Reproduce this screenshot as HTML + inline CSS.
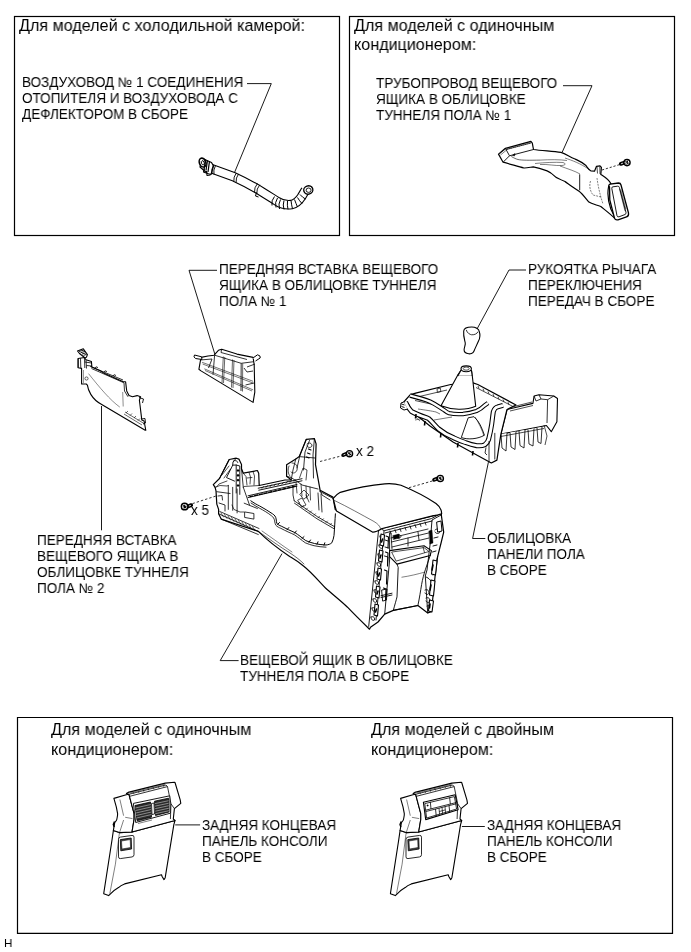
<!DOCTYPE html>
<html><head><meta charset="utf-8">
<style>
html,body{margin:0;padding:0;background:#fff;}
body{width:691px;height:952px;position:relative;overflow:hidden;font-family:"Liberation Sans",sans-serif;color:#000;}
.t{position:absolute;white-space:pre;font-size:13.87px;line-height:16.1px;transform:scaleX(0.975);transform-origin:0 0;will-change:transform;}
.h{position:absolute;white-space:pre;font-size:16.35px;line-height:19px;transform:scaleX(0.988);transform-origin:0 0;will-change:transform;}
svg{position:absolute;left:0;top:0;}
</style></head><body>
<svg width="691" height="952" viewBox="0 0 691 952" fill="none" stroke="#000" stroke-width="1">
<!-- boxes -->
<rect x="14.5" y="16.5" width="325" height="219" stroke-width="1.2"/>
<rect x="349.5" y="16.5" width="325" height="219" stroke-width="1.2"/>
<path d="M17.5,933.3 L17.5,717.5 L672.5,717.5 L672.5,933.3 Z" stroke-width="1.2"/>
<!-- PARTS -->
<!-- hose box1 -->
<g id="hose" stroke-linecap="butt" stroke-linejoin="round">
<path id="hc" d="M211,168.6 L234.5,177.1 C242,180.5 250,184.5 262,191.8 C268,195.5 273,198.8 277,201.3 C282,204.6 287,205.2 291.5,204.6 C296,203.6 299,200.8 301.5,196.8 L305.5,190" stroke-width="9.6"/>
<path d="M211,168.6 L234.5,177.1 C242,180.5 250,184.5 262,191.8 C268,195.5 273,198.8 277,201.3 C282,204.6 287,205.2 291.5,204.6 C296,203.6 299,200.8 301.5,196.8 L305.5,190" stroke="#fff" stroke-width="7.4"/>
<!-- connector -->
<path d="M202.5,158.5 L211.5,162.5 L213.5,166 L211,174.5 L207.5,173.5 L200,167 Z" fill="#fff" stroke-width="1.2"/>
<ellipse cx="202.6" cy="162.6" rx="3.2" ry="4.6" transform="rotate(-20 202.6 162.6)" fill="#fff" stroke-width="1.6"/>
<ellipse cx="202.8" cy="162.8" rx="1.4" ry="2.2" transform="rotate(-20 202.8 162.8)" stroke-width="0.9"/>
<path d="M205.5,159.5 L204,169.5 M207.5,160.3 L206,170.5 M209.5,161.2 L208,172" stroke-width="1.2"/>
<path d="M206.5,171 L207,175.5 L210.5,175 M204.5,168.5 L203.5,172 L206,173" stroke-width="1.1"/>
<path d="M213.5,165 Q211,169.5 212,174 M215.5,165.6 Q213,170 214,174.5" stroke-width="0.9"/>
<!-- bands -->
<path d="M236.3,173 q-3,4 -2.5,8.6 M238.6,173.9 q-3,4 -2.5,8.6" stroke-width="0.9"/>
<path d="M257.5,183.5 q-3.5,4 -3,9 M259.8,184.8 q-3.5,4 -3,9" stroke-width="0.9"/>
<path d="M256.5,192.5 l-1,3.5 l3,1" stroke-width="1"/>
<!-- bellows -->
<path d="M274.5,196.5 q-3.5,4 -2.5,9 M277.5,198 q-3,4.5 -1.5,9.5 M280.5,199.5 q-2.5,4.5 -1,9.5 M284,200.5 q-1.5,4.5 0,9 M287.5,200.8 q-0.5,4.5 0.5,8.6 M291,200.5 q0.5,4.5 1.5,8.3 M294.5,199.5 q1.5,4 3,7.5 M297.5,197.5 q2,3.5 4.5,6 M300,194.5 q2.5,3 5.5,4.5" stroke-width="1"/>
<ellipse cx="308.3" cy="190" rx="4.6" ry="4.1" transform="rotate(-20 308.3 190)" fill="#fff" stroke-width="1.4"/>
<ellipse cx="308.6" cy="190.2" rx="2.5" ry="2.2" stroke-width="0.9"/>
</g>
<!-- duct box2 -->
<g id="duct" stroke-linejoin="round">
<path d="M498.5,154.1 L505.4,148.3 L530.9,141.4 L532.3,143.2 L533.5,149.5 C541,150.6 552,151.2 561,152.4 C566,154 569,156.5 575,159 C578,160.5 582,162 585.6,165.2 C587.5,167.5 589,170.2 591,171 L594.5,171.2 L596.5,166.3 L600,165.8 L601.4,167.4 L600.8,174.4 C604,176.5 608,178.5 611,183.7 L608.6,186.5 C607.5,192 608,201 610.8,209 L616,219.5 C611,214.5 607,211.5 600.8,206.5 C595,204.5 591,203.5 588.9,202.1 C585,197.5 582,193.5 579.1,191.3 C573,187 568,184 565,181.5 C558,178.7 556,177.5 555.2,176.7 C552,173.5 550,172 547.1,170.9 C542,169 537,167.5 533.2,166.8 C529,167.5 526,168.2 523.9,168 C518,166.5 510,164 503.1,162.2 Z" fill="#fff" stroke-width="1.2"/>
<path d="M505.4,148.3 L509.5,155.8 L533.5,149.5 M509.5,155.8 L503.1,162.2" stroke-width="0.9"/>
<path d="M506,149.6 L531,143" stroke-width="0.7"/>
<path d="M507.5,149.6 L508.3,147.6 M509.5,149 L510.3,147 M511.5,148.5 L512.3,146.5 M513.5,148 L514.3,146 M515.5,147.4 L516.3,145.4 M517.5,146.9 L518.3,144.9 M519.5,146.4 L520.3,144.4 M521.5,145.8 L522.3,143.8 M523.5,145.3 L524.3,143.3 M525.5,144.8 L526.3,142.8 M527.5,144.2 L528.3,142.2 M529.5,143.7 L530.3,141.7" stroke-width="0.6"/>
<path d="M500,153.5 L505.5,149 M500.5,155 L506,150.5" stroke-width="0.5"/>
<path d="M511.3,156.5 C514,158 516,159 518,159.5 C522,160.4 530,160.3 540,160.1" stroke-width="0.6"/>
<path d="M512.5,155.3 L515,153.5 L514.5,156 Z" fill="#000" stroke-width="0.5"/>
<path d="M540,160.1 C550,159.5 560,159.5 567,160.5" stroke-width="0.5"/>
<path d="M535,163.5 C545,162.5 555,162 563,162.5 C566,163.5 566,165 562,165.5 C555,166 548,164 540,164.5" stroke-width="0.5"/>
<path d="M560,166 C568,169 575,171 580,174 M565,158 C572,160.5 580,163 590,170" stroke-width="0.5"/>
<path d="M579.7,174.4 L579.7,190.2" stroke-width="0.9"/>
<path d="M590.5,181 C589,186 590,191 593,195 L601,197 M597,178 C598,186 600,195 603,204" stroke-width="0.5" stroke-dasharray="2,1"/>
<path d="M609.5,187 Q608,185 610,184.2 L618.5,183 Q620.5,183 621,185 L628.5,213 Q629,216 626.5,216.8 L618,219.8 Q615.5,220.5 614.5,218.2 L609.8,200 Z" fill="#fff" stroke-width="1.3"/>
<path d="M611.8,188.5 Q611.5,187 613,186.8 L617.5,186.2 Q619,186 619.4,187.5 L626,212.5 Q626.3,214 625,214.5 L619,216.8 Q617.5,217.3 617,215.8 Z" stroke-width="0.9"/>
<path d="M619.5,189 L625,211 M620.8,189.5 L625.8,209" stroke-width="0.5"/>
<path d="M597,167 L597.5,173.5 M599.8,167 L600,174" stroke-width="0.7"/>
<path d="M602,170 L620.5,164.3" stroke-width="0.8" stroke-dasharray="2.2,1.8"/>
<g transform="translate(627,162.6)">
<path d="M-6.2,1.3 L-3,0.1" stroke-width="3.8" stroke-linecap="round"/>
<path d="M-6,1.2 L-4,0.5" stroke="#fff" stroke-width="0.8"/>
<circle cx="0" cy="0" r="3.1" fill="#fff" stroke-width="1.4"/>
<path d="M-1.6,-1.2 L0.4,-0.2 M0.6,-2 L0.2,0.6 M1.8,0.4 L-0.6,1.6 M-1.8,0.8 L-0.4,-0.6" stroke-width="1"/>
</g>
</g>
<!-- insert 2 (left) -->
<g id="ins2" stroke-linejoin="round">
<path d="M78.1,358.5 L84.5,357.5 L86,359.7 L91.4,361.4 L91.8,366 L90.8,366.6 L100.1,370.7 L104.7,373.6 L123.2,381.7 L125.6,381.7 L126.7,390.9 L129,395.6 L132.5,396.7 L137.1,395.6 L140.6,396.7 L139.4,400.2 L141.8,419.9 L144.1,421 L145.8,430.3 L145.2,430.3 L101.3,404.2 C98,402.5 93,398 90.8,394.4 C88.8,391 87.7,387.5 87.4,385.1 L86.2,384 L81.6,384 L81.6,368.4 L78.1,367.8 Z" fill="#fff" stroke-width="1.1"/>
<!-- clip -->
<path d="M77.5,351 L83.3,348.7 L87.4,354.5 L86.5,357.2 L84.5,357.5 L79.5,353.5 Z" fill="#fff" stroke-width="1.1"/>
<path d="M79,351.5 L84,350 M80.5,352.8 L85,351.4 M82,354 L86,352.8 M83.5,355.3 L86.6,354.4" stroke-width="0.9"/>
<path d="M78.1,358.5 L78.1,367.8 M84.5,357.5 L84.8,368 M80.5,358.2 L80.8,367.9 M86,359.7 L86.5,368.5 M84.8,362 L91.5,363 M86.5,365.5 L91.8,366" stroke-width="0.8"/>
<path d="M90.8,366.6 L123,380 M91.5,368.5 L124,382.8 L124.5,391 L128,396.8" stroke-width="0.8"/>
<path d="M95,368.3 L96,366.8 L98,367.6 M104,372.3 L105,370.8 L107,371.6 M113,376.2 L114,374.7 L116,375.5" stroke-width="0.8"/>
<path d="M88.5,373.6 C100,388 110,400 119.8,407.1 M122.7,392 L123.2,406.5" stroke-width="0.45"/>
<path d="M125,412 L144,423.5 M124,414 L142,425 M126,413 L128,411 M130,415.5 L132,413.5 M134,418 L136,416 M138,420.5 L140,418.5" stroke-width="0.6"/>
<path d="M139,397.5 L143.5,399 L142.5,403 M141.5,419 L145,418.5 L145.5,423 L143,424" stroke-width="0.9"/>
<circle cx="86.5" cy="378.5" r="1.6" stroke-width="0.6"/>
<path d="M83.5,370 L83.5,383" stroke-width="0.4"/>
</g>
<!-- insert 1 (upper middle) -->
<g id="ins1" stroke-linejoin="round">
<path d="M201,357.4 L198.9,369.3 L201,370.9 L253.1,402.4 L254.8,392.1 L254.2,365 L253.7,361.7 L253.1,357.4 L236.9,354.1 L221.7,349.2 L218.4,350.3 L214.1,355.2 L208,356 Z" fill="#fff" stroke-width="1.1"/>
<path d="M194.5,355 L201.5,356.8 L202,359.5 L195.5,358.5 Q193,357 194.5,355 Z" fill="#fff" stroke-width="1"/>
<path d="M253.1,357.9 L257.5,354.8 Q261,355.5 260.2,358 L255.5,361" fill="#fff" stroke-width="1"/>
<path d="M214.6,355.2 L241.2,363.3 L253.7,361.7 M214.6,355.2 L213,374.7 M241.2,363.3 L241,391 M221.7,349.2 L221,352.5 L247,359.5" stroke-width="0.8"/>
<path d="M223.3,356.5 L222,383 M232.5,359.5 L231.5,387.5 M224.8,357 L223.5,383 M234,360 L233,388 M242.7,363.5 L242.5,391.5" stroke-width="0.6"/>
<path d="M202.1,362.3 L253.1,381.3 M202.6,364 L253,383 M204.3,368.8 L253.1,389.9 M205,370.5 L252,391" stroke-width="0.55"/>
<path d="M200,360 L212,359 L208.5,368 M247,367 L255,364 M245.5,385 L254,383 M244,368 L247,372 L253,371" stroke-width="0.8"/>
</g>
<!-- knob -->
<path d="M463.7,331 C464,328 468,327 471.7,327 C475.5,327 479,329 479.3,331.7 C480.5,335 479.5,339 478.5,341 C477,344.5 475,348.5 473.9,351.2 C473,353.5 470,354 468.8,353.8 C466,353.5 464,352 464.1,349.8 C464.3,347 465.8,344.5 465.2,342.6 C464.5,339.5 463.2,336 463.7,331 Z" fill="#fff" stroke-width="1.1"/>
<path d="M466.3,329.9 C467,333 470,334.6 471.7,334.8 C474.5,335 477.5,333.5 477.9,331.7" stroke-width="0.8"/>
<!-- console -->
<g id="console" stroke-linejoin="round" stroke-linecap="round">
<!-- main body silhouette -->
<path d="M229.2,459.5 L236.2,458.2 L238.9,459.1 L241.5,464.4 L241.5,468.8 L243.3,473.2 L257.4,470.5 L258.7,473.2 L259.2,485.5 L285,480 L291.2,479.8 L286.6,476.3 L286.6,464.7 L295.8,458.9 L299.3,456.6 L306.3,439.3 L314.4,438.7 L316.1,443.9 L315.5,464.7 L320.1,490.2 L332.9,497.1 L335.2,509.5 L374.7,530.8 L380.8,528.7 L433.5,515.6 L441.6,513.6 L441.3,514.9 L443.7,532.1 L441.3,542 L437.6,556.7 L435.1,576 L431.4,611.7 L427.7,612.9 L417.9,605.5 L393.3,610.4 L384.7,614.1 L378,622 L370.5,627.2 L369.5,629.2 C360,620 352,612 347.5,607.2 C340,600 332,594 325.5,588 C318,580 310,571 303.5,566 C298,561 294,559 289.7,556.4 C280,550 268,541 258.3,531.4 L221.2,519.1 L218.6,513.8 L218.6,509.4 L216.8,504.1 L216,490.8 L215.1,487.3 L213.3,484.7 L219.5,478.5 Z" fill="#fff" stroke-width="1.2"/>
<!-- armrest -->
<path d="M333.2,498.4 C336,495 338,493.5 340.3,492.3 C355,488 370,485 384.8,483.8 C392,483.3 397,484 401,485.2 C415,491 428,498 436,503.5 C440,506.5 441.6,510 441.6,513.6 C440,515 436,515.2 433.5,515.6 L382.2,528.5 C378,531 375,532.5 372.4,532.1 L336.5,511 C335,507 334.5,503 333.2,498.4 Z" fill="#fff" stroke-width="1.2"/>
<path d="M334.5,500.5 C348,507 362,515 374,521.5 C378,524 380,526 380.5,528.5" stroke-width="0.55"/>
<!-- left bracket details -->
<path d="M229.2,459.5 L219.5,478.5 M232.7,465.2 L226.5,477.6 L234.5,481.1 M236.2,458.2 L233,462 L232.7,465.2 L236.2,465 L239.8,466 L239.8,494.4 M236.2,465 L236.2,493" stroke-width="0.9"/>
<path d="M233.5,461 C235,460 237.5,460.5 237.8,462.5" stroke-width="0.8"/>
<circle cx="238" cy="470.5" r="1.1" fill="#000" stroke-width="0.3"/>
<circle cx="238" cy="475.4" r="1.1" fill="#000" stroke-width="0.3"/>
<circle cx="238" cy="480.2" r="1.1" fill="#000" stroke-width="0.3"/>
<circle cx="238" cy="485.5" r="1.1" fill="#000" stroke-width="0.3"/>
<path d="M222,475 L229,466 M224,478 L230.5,469 M227,481 L219,484 L216.5,487 M215.1,487.3 L220,485.5 L227,486 L228.3,485.5" stroke-width="0.7"/>
<path d="M228.3,485.5 L228.3,509.4 M232.7,487.3 L232.7,510.3 M237.1,489 L237.1,512.9 M216.8,491.7 L230.1,493.5 M218,496 L222,495.5 L222.5,500 M219,503 L225,505 L225,511" stroke-width="0.8"/>
<path d="M243.3,487.3 L249.5,505 M244.2,503.2 L257.4,508.5 M245,512 L253.9,513.5 L253.9,519.1 L245,517.5 Z M241.5,468.8 L243.3,487.3" stroke-width="0.8"/>
<path d="M243.3,473.2 L246,476.5 L247,485 M249,472.5 L250.5,477 L250,484 M253,471.5 L254.5,476 L254,485 M247,478 L252,477.5 M244,486.5 L259.2,485.5" stroke-width="0.7"/>
<path d="M218.6,513.8 L258.3,531.4 M219.8,511.5 L259,528.5 M221.2,519.1 L258.3,534.5" stroke-width="0.8"/>
<path d="M221,513 L223.5,517 M224.5,514.5 L227,518.5 M228,516 L230.5,520 M231.5,517.5 L234,521.5 M235,519 L237.5,523 M238.5,520.5 L241,524.5 M242,522 L244.5,526 M245.5,523.5 L248,527.5 M249,525 L251.5,529 M252.5,526.5 L255,530.5" stroke-width="0.6"/>
<path d="M232,505 L234,509.5 L240,512 L244,512" stroke-width="0.7"/>
<!-- cross bar -->
<path d="M258.2,488.2 L302,478.7 M258.8,490.2 L302,480.8 M248.1,495.8 L297,484.5 M248,497.6 L297,486.2" stroke-width="0.9"/>
<path d="M262,488.4 L263.5,486.6 M266,487.5 L267.5,485.7 M270,486.7 L271.5,484.9 M274,485.8 L275.5,484 M278,485 L279.5,483.2 M282,484.1 L283.5,482.3 M286,483.2 L287.5,481.4 M290,482.4 L291.5,480.6 M294,481.5 L295.5,479.7" stroke-width="0.7"/>
<path d="M250,496.7 L296,486" stroke-width="1.2" stroke-dasharray="3,1.8"/>
<!-- right bracket details -->
<path d="M306.3,439.3 L300,455 L297,468 M309.5,440.5 L305,452 L303.5,470 M314.4,438.7 L313,455 L313.5,478 M299.3,456.6 L315,458 M295.8,458.9 L293,470 L291.2,479.8" stroke-width="0.8"/>
<path d="M307,444 C309,442 312,443 312,446 C311,448 308,448 307,446" stroke-width="0.8"/>
<path d="M308.5,449 L311,450 M307.5,453 L310,454 M306.5,457 L309,458" stroke-width="1.1"/>
<path d="M289,466 C287.5,470 288,474 290,476 M292,463 C296,463 298,466 297,470 C296,473 293,474 291,472" stroke-width="0.7"/>
<path d="M286.6,476.3 L291,477.5 L298,482 L302,485 L310,487 L318,489 M293,486 L293,495 L294.2,500.8" stroke-width="0.8"/>
<path d="M296,482 L297,493 M301,484 L302,496 M306,486 L306.5,498 M310,487 L310.5,500 M300,494 L304,490 L309,495 L304,499 Z M299.5,478 L303,468 L307,470 L306,480" stroke-width="0.7"/>
<path d="M298,500 L302,498 L306,505 L302,507 Z M306,495 L309,502" stroke-width="0.7"/>
<path d="M320.1,490.2 L322,495 L330,500 M319.6,491.3 L332.9,498.3 M318,493 L319,510 M321,494 L322,512" stroke-width="0.8"/>
<!-- inner sidewall wavy edge -->
<path d="M250.8,500.8 C254,503 256.5,504.5 259.5,505.9 C264,508.5 268.5,511 272.5,513.8 C274.5,515 275.8,516.8 276.1,518.9 C276.3,520.8 276.5,522 276.8,523.2 C278,524.8 279.5,525.5 281.2,526.1 C283.5,527.3 286,528.6 288.4,529.7 C290.5,530.7 292.8,531.6 294.9,532.6 C296.8,533.8 298.4,535 300,536.2 C302,537.8 303.8,539.2 305.8,540.6 C308.5,541.8 311.5,542.8 314.5,543.5 C318,544.3 322,544.9 326,545 C328.5,544.8 330.5,544 331.8,542.8 C333,540.5 333.6,538 334,535.5 C334.6,528 335,520 335.4,513.8" stroke-width="1"/>
<path d="M251,503 C254,505 256.5,506.6 259.2,508 C264,510.6 268,513 271.5,515.8 C273.3,517 274.3,518.8 274.6,520.8 C274.8,522.6 275.2,524 275.8,525.2 C277.3,526.8 279,527.6 280.8,528.3 C283,529.4 285.5,530.8 288,531.9 C290.2,532.9 292.4,533.8 294.4,534.8 C296.3,536 298,537.3 299.5,538.4 C301.5,540 303.3,541.4 305.3,542.8 C308,544 311,545 314,545.7 C318,546.5 322,547.1 326,547.2" stroke-width="0.8"/>
<path d="M277.5,524.5 L279.5,522.5 M287,529.8 L288.8,527.6 M294.5,533.2 L296.3,531 M302,538.5 L304,536.6 M309,542.3 L310.5,540 M317,544.2 L318,541.8 M324,545.2 L324.8,542.8" stroke-width="1"/>
<!-- right side wall band -->
<path d="M294.2,500.8 L317.4,516.7 L334.7,526.8 M294.5,503.2 L317,518.8 L334.5,529" stroke-width="0.8"/>
<path d="M298,504 L299.5,502.5 M302,506.8 L303.5,505.3 M306,509.6 L307.5,508.1 M310,512.4 L311.5,510.9 M314,515.2 L315.5,513.7 M318,517.8 L319.5,516.3 M322,520.2 L323.5,518.7 M326,522.5 L327.5,521 M330,524.8 L331.5,523.3" stroke-width="0.6"/>
<!-- outer side crease -->
<path d="M258.3,531.4 C268,538 280,547 290,553 C296,557 300,560 304,564" stroke-width="0.6"/>
<path d="M262,531 C272,538 283,546 292,552" stroke-width="0.5"/>
<!-- rear: top bars -->
<path d="M382.2,528.5 L383.5,530.9 L431.4,518.6 L440,514 M385,533 L432,521" stroke-width="0.9"/>
<path d="M390,531 L391,534 M395,529.7 L396,532.7 M400,528.5 L401,531.5 M405,527.2 L406,530.2 M410,526 L411,529 M415,524.7 L416,527.7 M420,523.4 L421,526.4 M425,522 L426,525" stroke-width="0.8"/>
<!-- rear: duct opening -->
<path d="M391,533 L392,549 M391,538 L428,529 M391.5,542 L428.5,533 M392,547 L429,538 M408,538 L408,546 M396,536 C397,534 400,534 401,536.5 C400,539 397,539 396,536 M418,532 L419,540" stroke-width="0.8"/>
<path d="M393,535.5 L399,534 L399.5,538 L393.5,539.5 Z" fill="#000" stroke-width="0.4"/>
<!-- rear: left column -->
<path d="M378.5,530.9 L368.7,626.4 M389.6,533 L389.6,560 L384.7,614.1 M384,531.5 L376,620" stroke-width="0.9"/>
<path d="M380,536 C382,535 384,536 383.5,539 C382,540 380,539 380,536 M379,545 C381,544 383,545 382.5,548 C381,549 379,548 379,545 M378,554 C380,553 382,554 381.5,557 C380,558 378,557 378,554 M377,563 C379,562 381,563 380.5,566 C379,567 377,566 377,563 M376,572 C378,571 380,572 379.5,575 C378,576 376,575 376,572 M375,581 C377,580 379,581 378.5,584 C377,585 375,584 375,581 M374,590 C376,589 378,590 377.5,593 C376,594 374,593 374,590 M373,599 C375,598 377,599 376.5,602 C375,603 373,602 373,599 M372,608 C374,607 376,608 375.5,611 C374,612 372,611 372,608 M371,617 C373,616 375,617 374.5,620 C373,621 371,620 371,617" stroke-width="0.9"/>
<path d="M385,540 L388,541 M385,547 L388.5,548 M384.5,556 L388,557 L387.5,564 M382,590 L387,589 L386.5,600 L383,601 Z M381,595.7 L392,593.2 M381,597.5 L392,595" stroke-width="0.9"/>
<!-- rear: tray -->
<path d="M389.6,550.6 L424,545.7 L431.4,550.6 L430.2,555.5 L397,564.1 L389.6,556.7 Z" fill="#fff" stroke-width="1.1"/>
<path d="M392,552 L424,547.6 L429,551.5 L396.5,561 Z M423,547 L424.5,552.5" stroke-width="0.7"/>
<!-- rear: bin -->
<path d="M397,564.1 C397.5,566 398,566.5 398.2,567.4 L397,596.9 C396,601 395,604 393.3,610.4 L417.9,605.5 C419.5,598 420.5,591 421.6,584.6 C422.5,579 424,574 425.3,569.8 L430.2,555.5" stroke-width="0.9"/>
<path d="M401.9,577.2 C410,576 418,574 424,572.3" stroke-width="0.5"/>
<!-- rear: right column -->
<path d="M441.3,514.9 L432,520 L430,545 L427,570 L425.3,576 L427.7,612.9 M437.6,556.7 L433,575 M435,530 C437,528 440,529 440,532 C439,534 436,534 435,532 M434,538 L438,537 M433,546 L437,545 M432.5,552 L436,551" stroke-width="0.9"/>
<path d="M426,577 C429,578 432,581 432,585 M425,590 C427,589 429,590 429,593 C428,595 426,595 425,593 M426,598 C428,597 430,598 430,601 C429,603 427,603 426,601 M427,606 C429,605 431,606 431,609" stroke-width="0.9"/>
<path d="M429,531 L432,530 L433,543 L430,544 Z" fill="#000" stroke-width="0.4"/>
<path d="M381,534 L384.5,535 L383.5,546 L380,545 Z M379.5,550 L383,551 L382,562 L378.5,561 Z M378,568 L381.5,569 L380.5,580 L377,579 Z M376.5,586 L380,587 L379,598 L375.5,597 Z M375,604 L378.5,605 L377.5,616 L374,615 Z" fill="#fff" stroke-width="1.1"/>
<path d="M386,536 L388.5,537 L388,548 M385.5,552 L388,553 L387.5,566 M384.5,570 L387,571 L386.5,584 M383.5,588 L386,589 L385.5,600" stroke-width="1.1"/>
<path d="M382.5,539 L381.5,542 M381,555 L380,558 M379.5,573 L378.5,576 M378,591 L377,594 M376.5,609 L375.5,612" stroke-width="1.6"/>
<path d="M433,560 L437,561 L435.5,575 L431.5,574 Z M431,580 L435,581 L433.5,596 L429.5,595 Z M429.5,600 L433.5,601 L432,612 L428.5,611 Z" fill="#fff" stroke-width="1.1"/>
<path d="M433,565 L432,570 M431,585 L430,590 M430,604 L429.5,608" stroke-width="1.6"/>
<path d="M437,522 L441,521 L442,531 L438,532 Z" fill="#fff" stroke-width="1"/>
</g>
<!-- screws with dashed lines -->
<g id="screws">
<path d="M192.5,503.6 L216,496" stroke-width="0.8" stroke-dasharray="2.4,2"/>
<path d="M320,461.5 L343,455.5" stroke-width="0.8" stroke-dasharray="2.4,2"/>
<path d="M409,487.7 L434,480.5" stroke-width="0.8" stroke-dasharray="2.4,2"/>
<g transform="translate(184.6,506.6) scale(-1.05,-1.05)">
<path d="M-6.2,1.3 L-3,0.1" stroke-width="3.8" stroke-linecap="round"/>
<path d="M-6,1.2 L-4,0.5" stroke="#fff" stroke-width="0.8"/>
<circle cx="0" cy="0" r="3.1" fill="#fff" stroke-width="1.4"/>
<path d="M-1.6,-1.2 L0.4,-0.2 M0.6,-2 L0.2,0.6 M1.8,0.4 L-0.6,1.6 M-1.8,0.8 L-0.4,-0.6" stroke-width="1"/>
</g>
<g transform="translate(349.5,453.7)">
<path d="M-6.2,1.3 L-3,0.1" stroke-width="3.8" stroke-linecap="round"/>
<path d="M-6,1.2 L-4,0.5" stroke="#fff" stroke-width="0.8"/>
<circle cx="0" cy="0" r="3.1" fill="#fff" stroke-width="1.4"/>
<path d="M-1.6,-1.2 L0.4,-0.2 M0.6,-2 L0.2,0.6 M1.8,0.4 L-0.6,1.6 M-1.8,0.8 L-0.4,-0.6" stroke-width="1"/>
</g>
<g transform="translate(440.3,478.5)">
<path d="M-6.2,1.3 L-3,0.1" stroke-width="3.8" stroke-linecap="round"/>
<path d="M-6,1.2 L-4,0.5" stroke="#fff" stroke-width="0.8"/>
<circle cx="0" cy="0" r="3.1" fill="#fff" stroke-width="1.4"/>
<path d="M-1.6,-1.2 L0.4,-0.2 M0.6,-2 L0.2,0.6 M1.8,0.4 L-0.6,1.6 M-1.8,0.8 L-0.4,-0.6" stroke-width="1"/>
</g>
</g>
<!-- shifter trim -->
<g id="shifter" stroke-linejoin="round">
<!-- right arm (back) -->
<path d="M507,409.5 L532.9,403.4 L534.1,396 L539,394.8 L553.8,396 L557.5,398.5 L556.9,421.8 L551.3,431.7 L546.4,425.5 L500.9,434.1 Z" fill="#fff" stroke-width="1.1"/>
<path d="M547.6,399.7 L547,423 M539,394.8 L541,399 L547.6,399.7 L553.8,396 M534.1,396 L536,401 L541,399" stroke-width="0.8"/>
<path d="M510,411 L533,405.5 M512,407 L532,402" stroke-width="0.7"/>
<!-- ribs -->
<path d="M501,434 L502,448 L506,451 L507,433 M510,432.5 L511,447 L515,449.5 L516,431.5 M519,431 L520,445.5 L524,448 L525,430 M528,429.5 L529,444 L533,446 L534,428.5 M537,428 L538,442 L541,443.5 L542,427" fill="#fff" stroke-width="0.8"/>
<path d="M498,437 L544,428.5 M544,425 L547,436 L545,445" stroke-width="0.7"/>
<!-- main frame -->
<path d="M403.8,402 L410.1,394.8 L415.7,393.2 L450.7,384.5 L473,382.9 L477.8,384.5 L516,405 L507,409.5 L500.9,434.1 L496.9,460.1 L491.3,463 L453,442 L430,426 L420,418 L407.7,409 Z" fill="#fff" stroke-width="1.2"/>
<path d="M476,387.5 L513,406.5 M478,386 L479,388.5 M483,388.7 L484,391.2 M488,391.4 L489,393.9 M493,394.1 L494,396.6 M498,396.8 L499,399.3 M503,399.5 L504,402 M508,402.2 L509,404.7" stroke-width="0.7"/>
<path d="M413,398 L447,390 M415,400.5 L437,405.4" stroke-width="0.7"/>
<path d="M416,396.5 L418,398.5 M420,397.5 L422,399.5 M424,398.5 L426,400.5 M428,399.5 L430,401.5" stroke-width="0.6"/>
<path d="M437,388.9 L440.4,388.2 L440.8,391.6 L437.4,392.4 Z" stroke-width="0.7"/>
<!-- lower region inside -->
<path d="M409,404 C412,412 416,418 420,421 M418,409 C425,410 432,411 436,412 L440,414 M434,420 C440,419 446,418 452,417 M415,420 L425,418 C428,417 430,419 431,421" stroke-width="0.55"/>
<!-- lower cone -->
<path d="M468.2,417.8 L461.3,437.5 C468,440 478,439 484.4,435.2 C482,428 479,421 474,416.7 Z" fill="#fff" stroke-width="0.9"/>
<path d="M475,417 C479,423 482,430 484,436" stroke-width="0.5"/>
<!-- boot -->
<path d="M457.8,375 L441,405.7 C452,410 466,410.5 475.7,406.2 L472.2,375 Z" fill="#fff" stroke-width="1.1"/>
<path d="M461.1,370.1 L457.8,375 M471.4,370.1 L472.2,375" stroke-width="1.1"/>
<path d="M461,370 L458,375.5 L472.5,375.5 L471.5,370 Z" fill="#fff" stroke-width="0"/>
<path d="M461.1,370.1 L457.8,376 M471.4,370.1 L472.2,376" stroke-width="1.1"/>
<ellipse cx="466.2" cy="368.8" rx="5.2" ry="2.9" fill="#fff" stroke-width="1.1"/>
<ellipse cx="466.2" cy="368.6" rx="3" ry="1.6" stroke-width="0.7"/>
<!-- inner U-bar tube -->
<path d="M410,395.5 C418,397.5 425,399.5 430,401.6 C436,404.5 440,407.5 444,410 C446,411.5 447.5,412.7 449,413.2 C454,414.3 459,414.3 463,414 C468,413.5 472,412.5 476.5,411 C480,409.5 482.5,407.5 484.5,405.5 L488,403" stroke-width="4.4" fill="none"/>
<path d="M410,395.5 C418,397.5 425,399.5 430,401.6 C436,404.5 440,407.5 444,410 C446,411.5 447.5,412.7 449,413.2 C454,414.3 459,414.3 463,414 C468,413.5 472,412.5 476.5,411 C480,409.5 482.5,407.5 484.5,405.5 L488,403" stroke="#fff" stroke-width="2.3" fill="none"/>
<!-- front loop tube -->
<path d="M405.5,402 C407,405.5 409,409 411.5,411.5 C417,414.5 423,416.5 428.5,418.5 C432,421.5 435,425.5 438.5,428.8 C443,432.5 448,435.5 454,437.9 C458,439.8 461.5,441.2 465.4,442.5 C469,443.8 473,445 476.7,445.7 C480,446 483,445.6 484.8,444.7 C487,443 488,441.5 488.6,439.5 C490,434 491,429 491.7,424.2 C492.3,419.5 492.8,415 493.4,411.5 C494.5,408.5 496,407.2 497.7,406.9 L503,405.3" stroke-width="5" fill="none"/>
<path d="M405.5,402 C407,405.5 409,409 411.5,411.5 C417,414.5 423,416.5 428.5,418.5 C432,421.5 435,425.5 438.5,428.8 C443,432.5 448,435.5 454,437.9 C458,439.8 461.5,441.2 465.4,442.5 C469,443.8 473,445 476.7,445.7 C480,446 483,445.6 484.8,444.7 C487,443 488,441.5 488.6,439.5 C490,434 491,429 491.7,424.2 C492.3,419.5 492.8,415 493.4,411.5 C494.5,408.5 496,407.2 497.7,406.9 L503,405.3" stroke="#fff" stroke-width="2.9" fill="none"/>
<!-- front verticals -->
<path d="M489,441 L489,462.5 M494.8,432.9 L494.8,459.5" stroke-width="0.8"/>
<path d="M403.8,402 L401,403 L400.5,408 L404,410 L407.7,409" fill="#fff" stroke-width="1"/>
<path d="M401.5,404 L404.5,405 M401.5,406.5 L404.5,407.5" stroke-width="0.9"/>
<!-- clips under -->
<path d="M416,414 L415.5,418.5 M425,421 L424.5,425.5 M441,433 L440.5,437.5 M458,443 L457.5,447.5 M473,451 L472.5,455.5" stroke-width="1.6"/>
<path d="M486,447.5 L485,453 L487,455" stroke-width="0.8"/>
</g>
<!-- rear panels -->
<g stroke-linejoin="round">
<!-- lower section -->
<path d="M113.4,830.4 L112,840 L103.7,893.7 L108.6,895.6 C112,892 115,889.5 118.5,887.6 C120,886 122,884.8 124.6,883.9 L161.5,874.7 L162.1,876.5 L164,879.6 L165.2,877.7 L173.8,824.8 L175,820.5 L132,832 L119.4,832.6 Z" fill="#fff" stroke-width="1.1"/>
<path d="M119.4,833 L115.4,864.2 L109.8,893.7" stroke-width="0.5"/>
<!-- left side piece -->
<path d="M113.9,798.4 L126.2,794.7 L128.9,794.2 L132,805.8 L134.1,813.6 L134.1,819.4 L132,832 L119.4,832.6 L113.4,830.4 L114.7,822.6 C116,821 116.8,820 116.8,819.4 C117.5,816 117.8,815 117.6,813.6 L116.3,806.8 Z" fill="#fff" stroke-width="1.1"/>
<path d="M119.9,799.5 L123.6,815.7 M123.6,820 L119.4,833 M125.2,817.3 L132.5,818.6" stroke-width="0.5"/>
<path d="M114.5,821.5 L113.3,824.5 L114.2,827" stroke-width="1.4"/>
<!-- hood -->
<path d="M126.4,793.5 L128.1,792.4 L165.2,783.1 L174.4,782.2 L175,782.5 L180.2,799.9 L180.8,803.4 L174.4,808.6 L173.3,819 L175,820.5 L132,832 L134.1,819.4 L134.1,813.6 L132,805.8 L128.9,794.2 Z" fill="#fff" stroke-width="1.1"/>
<path d="M129.3,796.4 L167.5,786.6 L171,803.9 L170.4,819 M174.4,808.6 L171,803.9 M128,794.5 L166,785 L167.5,786.6" stroke-width="0.8"/>
<path d="M130,793 L165,784.3 M133,791.8 L134,794.2 M138,790.6 L139,793 M143,789.4 L144,791.8 M148,788.2 L149,790.6 M153,787 L154,789.4 M158,785.8 L159,788.2 M163,784.6 L164,787" stroke-width="0.5"/>
</g>
<g transform="translate(286.7,0)" stroke-linejoin="round">
<!-- lower section -->
<path d="M113.4,830.4 L112,840 L103.7,893.7 L108.6,895.6 C112,892 115,889.5 118.5,887.6 C120,886 122,884.8 124.6,883.9 L161.5,874.7 L162.1,876.5 L164,879.6 L165.2,877.7 L173.8,824.8 L175,820.5 L132,832 L119.4,832.6 Z" fill="#fff" stroke-width="1.1"/>
<path d="M119.4,833 L115.4,864.2 L109.8,893.7" stroke-width="0.5"/>
<!-- left side piece -->
<path d="M113.9,798.4 L126.2,794.7 L128.9,794.2 L132,805.8 L134.1,813.6 L134.1,819.4 L132,832 L119.4,832.6 L113.4,830.4 L114.7,822.6 C116,821 116.8,820 116.8,819.4 C117.5,816 117.8,815 117.6,813.6 L116.3,806.8 Z" fill="#fff" stroke-width="1.1"/>
<path d="M119.9,799.5 L123.6,815.7 M123.6,820 L119.4,833 M125.2,817.3 L132.5,818.6" stroke-width="0.5"/>
<path d="M114.5,821.5 L113.3,824.5 L114.2,827" stroke-width="1.4"/>
<!-- hood -->
<path d="M126.4,793.5 L128.1,792.4 L165.2,783.1 L174.4,782.2 L175,782.5 L180.2,799.9 L180.8,803.4 L174.4,808.6 L173.3,819 L175,820.5 L132,832 L134.1,819.4 L134.1,813.6 L132,805.8 L128.9,794.2 Z" fill="#fff" stroke-width="1.1"/>
<path d="M129.3,796.4 L167.5,786.6 L171,803.9 L170.4,819 M174.4,808.6 L171,803.9 M128,794.5 L166,785 L167.5,786.6" stroke-width="0.8"/>
<path d="M130,793 L165,784.3 M133,791.8 L134,794.2 M138,790.6 L139,793 M143,789.4 L144,791.8 M148,788.2 L149,790.6 M153,787 L154,789.4 M158,785.8 L159,788.2 M163,784.6 L164,787" stroke-width="0.5"/>
</g>
<!-- single AC vents -->
<g id="vents1">
<path d="M133.4,803.4 L169.8,795.8 L170.4,813.2 L135.7,822.5 Z" fill="#fff" stroke-width="0.9"/>
<path d="M135,805.5 L150.5,802 L151.5,817 L137,820.5 Z" fill="#2a2a2a" stroke-width="0.8"/>
<path d="M154.5,801.2 L168.5,798.2 L169,812 L155.5,815.5 Z" fill="#2a2a2a" stroke-width="0.8"/>
<path d="M135.3,808 L150.8,804.5 M135.6,810.5 L151,807 M135.9,813 L151.2,809.5 M136.2,815.5 L151.4,812 M136.6,818 L151.5,814.5 M154.7,803.7 L168.6,800.7 M154.9,806.2 L168.7,803.2 M155.1,808.7 L168.8,805.7 M155.3,811.2 L168.9,808.2 M155.4,813.7 L169,810.7" stroke="#fff" stroke-width="0.45"/>
<path d="M151.5,803.5 L154,803 L154.5,814 L152,814.5 Z" fill="#fff" stroke-width="0.8"/>
<path d="M137,821 L151.5,817.5 M138,823.5 L152,820" stroke-width="0.5"/>
</g>
<!-- switch left -->
<g>
<rect x="118.5" y="836.5" width="15.5" height="21.5" rx="2" transform="skewY(-8) translate(0,17.5)" fill="#fff" stroke-width="0.8"/>
<path d="M120.3,839.6 L131.2,838 L131.6,849 L120.8,850.8 Z" fill="#444" stroke-width="0.8"/>
<path d="M121.5,841 L130.2,839.6 L130.5,847.5 L122,849 Z" fill="#fff" stroke-width="0.5"/>
</g>
<!-- dual AC control panel -->
<g id="ctrl2" stroke-linejoin="round">
<path d="M423.4,802.2 L455.2,794.7 L458.1,809.7 L425.7,819.6 Z" fill="#fff" stroke-width="1.1"/>
<path d="M424.8,803.6 L454.4,796.6 L456.6,809 L426.6,818 Z" stroke-width="0.8"/>
<path d="M425.6,810.2 L456,802.6 M425.9,811.5 L456.2,803.8" stroke-width="0.8"/>
<path d="M430.3,801.8 L431,809 M449.6,797.4 L450.4,804.4 M435.5,809 L436.3,816.5 M449,805.6 L449.8,812.6" stroke-width="0.8"/>
<path d="M439,808 L439.6,814.6 M442,807.3 L442.6,813.8 M445,806.6 L445.6,813.2 M439.3,811.5 L445.3,809.9" stroke-width="0.7"/>
<circle cx="427.6" cy="805.5" r="0.8" fill="#000" stroke-width="0.3"/>
</g>
<!-- switch right -->
<g transform="translate(287.5,0)">
<rect x="118.5" y="836.5" width="15.5" height="21.5" rx="2" transform="skewY(-8) translate(0,17.5)" fill="#fff" stroke-width="0.8"/>
<path d="M120.3,839.6 L131.2,838 L131.6,849 L120.8,850.8 Z" fill="#444" stroke-width="0.8"/>
<path d="M121.5,841 L130.2,839.6 L130.5,847.5 L122,849 Z" fill="#fff" stroke-width="0.5"/>
</g>
<!-- leaders -->
<g stroke-width="0.9">
<polyline points="247,83.6 271.3,83.6 234.6,172.3"/>
<polyline points="563,85.7 592,85.7 562.2,152.2"/>
<polyline points="217,270.3 189,270.3 214.9,354.3"/>
<polyline points="526,270 509,270 477,329"/>
<polyline points="101.5,406 101.5,530.3"/>
<polyline points="488.4,462.2 472.6,538.5 485.3,538.5"/>
<polyline points="282,553.6 220.2,660.6 238.6,660.6"/>
<polyline points="175.2,824.9 200.1,824.9"/>
<polyline points="461.9,826.5 484.8,826.5"/>
</g>
</svg>
<div class="h" style="left:19px;top:16.1px">Для моделей с холодильной камерой:</div>
<div class="h" style="left:353.8px;top:15.6px">Для моделей с одиночным
кондиционером:</div>
<div class="t" style="left:21.5px;top:73.8px">ВОЗДУХОВОД № 1 СОЕДИНЕНИЯ
ОТОПИТЕЛЯ И ВОЗДУХОВОДА С
ДЕФЛЕКТОРОМ В СБОРЕ</div>
<div class="t" style="left:375.5px;top:75.2px">ТРУБОПРОВОД ВЕЩЕВОГО
ЯЩИКА В ОБЛИЦОВКЕ
ТУННЕЛЯ ПОЛА № 1</div>
<div class="t" style="left:219px;top:261.2px">ПЕРЕДНЯЯ ВСТАВКА ВЕЩЕВОГО
ЯЩИКА В ОБЛИЦОВКЕ ТУННЕЛЯ
ПОЛА № 1</div>
<div class="t" style="left:528.2px;top:260.6px">РУКОЯТКА РЫЧАГА
ПЕРЕКЛЮЧЕНИЯ
ПЕРЕДАЧ В СБОРЕ</div>
<div class="t" style="left:36.7px;top:531.9px">ПЕРЕДНЯЯ ВСТАВКА
ВЕЩЕВОГО ЯЩИКА В
ОБЛИЦОВКЕ ТУННЕЛЯ
ПОЛА № 2</div>
<div class="t" style="left:486.8px;top:529.5px">ОБЛИЦОВКА
ПАНЕЛИ ПОЛА
В СБОРЕ</div>
<div class="t" style="left:240px;top:651.6px">ВЕЩЕВОЙ ЯЩИК В ОБЛИЦОВКЕ
ТУННЕЛЯ ПОЛА В СБОРЕ</div>
<div class="t" style="left:355.8px;top:442.5px">x 2</div>
<div class="t" style="left:191px;top:502.1px">x 5</div>
<div class="h" style="left:51.1px;top:720.1px;line-height:19.5px">Для моделей с одиночным
кондиционером:</div>
<div class="h" style="left:371.2px;top:719.7px;line-height:19.5px">Для моделей с двойным
кондиционером:</div>
<div class="t" style="left:201.7px;top:816.8px">ЗАДНЯЯ КОНЦЕВАЯ
ПАНЕЛЬ КОНСОЛИ
В СБОРЕ</div>
<div class="t" style="left:486.7px;top:816.8px">ЗАДНЯЯ КОНЦЕВАЯ
ПАНЕЛЬ КОНСОЛИ
В СБОРЕ</div>
<div class="t" style="left:4.3px;top:936.6px;font-size:11.8px;line-height:13px">H</div>
</body></html>
